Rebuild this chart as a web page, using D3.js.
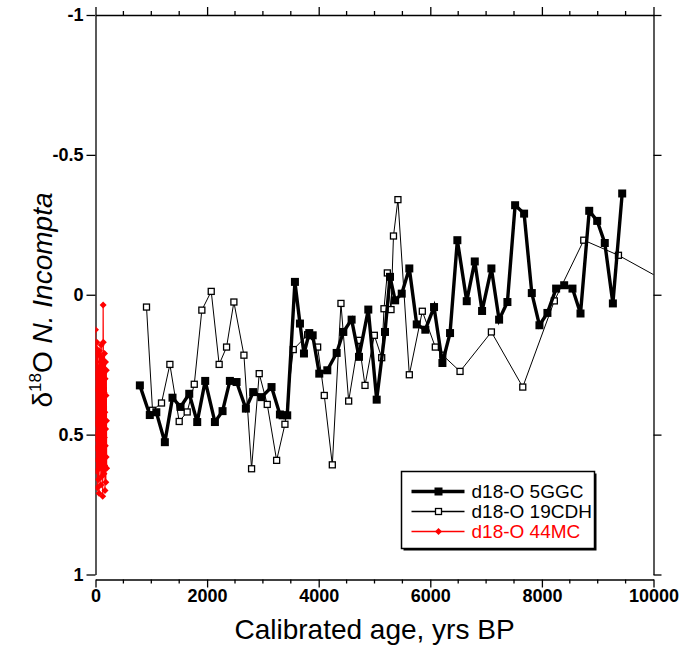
<!DOCTYPE html>
<html>
<head>
<meta charset="utf-8">
<script src="https://cdn.jsdelivr.net/npm/d3@7"></script>
<style>
  body { margin: 0; background: #fff; }
  svg { display: block; font-family: Arial, "Liberation Sans", sans-serif; }
  .tick-label { font-weight: bold; font-size: 18px; fill: #000; }
</style>
</head>
<body>
<div id="chart"></div>
<script>
// core 5GGC (thick line, filled squares)
const ages5GGC = [795, 973, 1090, 1243, 1380, 1524, 1680, 1823, 1966, 2140, 2277, 2408, 2528, 2695, 2826, 2976,
  3155, 3305, 3353, 3436, 3574, 3664, 3736, 3831, 3892, 4010, 4154, 4322, 4441, 4590, 4722, 4889, 5039, 5188,
  5278, 5370, 5488, 5624, 5757, 5911, 6067, 6217, 6354, 6485, 6653, 6797, 6928, 7095, 7233, 7382, 7520, 7681,
  7819, 7956, 8099, 8255, 8399, 8548, 8692, 8848, 8991, 9127, 9272, 9439];
const vals5GGC = [0.324, 0.43, 0.42, 0.527, 0.368, 0.401, 0.354, 0.455, 0.308, 0.455, 0.416, 0.308, 0.312, 0.407, 0.348, 0.366,
  0.33, 0.428, 0.431, 0.431, -0.046, 0.103, 0.21, 0.137, 0.145, 0.282, 0.27, 0.208, 0.133, 0.089, 0.222, 0.053, 0.375, 0.133,
  -0.064, 0.02, -0.004, -0.094, 0.106, 0.125, 0.044, 0.244, 0.137, -0.195, 0.023, -0.119, 0.058, -0.094, 0.089, 0.026, -0.32, -0.29,
  -0.006, 0.109, 0.065, -0.022, -0.034, -0.022, 0.067, -0.3, -0.264, -0.185, 0.031, -0.362];

// core 19CDH (thin line, open squares)
const ages19CDH = [914, 1022, 1183, 1333, 1500, 1643, 1770, 1906, 2074, 2216, 2349, 2480, 2660, 2797, 2934, 3078,
  3246, 3395, 3544, 3802, 3981, 4100, 4244, 4399, 4537, 4716, 4830, 4997, 5129, 5170, 5230, 5296, 5340, 5420,
  5624, 5857, 6090, 6223, 6533, 7095, 7657, 8223, 8750, 9372, 10800];
const vals19CDH = [0.044, 0.413, 0.387, 0.249, 0.453, 0.419, 0.32, 0.055, -0.012, 0.249, 0.187, 0.026, 0.216, 0.622, 0.282, 0.392,
  0.592, 0.463, 0.196, 0.143, 0.187, 0.36, 0.608, 0.031, 0.38, 0.163, 0.324, 0.145, 0.225, 0.05, -0.078, 0.053, -0.21, -0.34,
  0.286, 0.059, 0.187, 0.216, 0.274, 0.133, 0.33, 0.022, -0.195, -0.141, 0.016];

// core 44MC (red, diamonds)
const ages44MC = [0, 3, 6, 9, 12, 15, 18, 21, 24, 27, 30, 33, 36, 39, 42, 45, 48, 51, 54, 57,
  60, 63, 66, 69, 72, 75, 78, 81, 84, 87, 90, 93, 96, 99, 102, 105, 108, 111, 114, 117,
  120, 123, 126, 129, 132, 135, 137, 140, 143, 146, 149, 152, 155, 158, 161, 164, 167, 170, 173, 176,
  179, 182, 185, 188, 191, 194, 197, 200];
const vals44MC = [0.125, 0.46, 0.19, 0.55, 0.28, 0.63, 0.24, 0.5, 0.17, 0.59, 0.34, 0.69, 0.3, 0.52, 0.21, 0.44, 0.66, 0.38, 0.26, 0.57,
  0.33, 0.71, 0.41, 0.2, 0.49, 0.27, 0.62, 0.36, 0.47, 0.22, 0.58, 0.31, 0.68, 0.4, 0.18, 0.53, 0.29, 0.65, 0.37, 0.45,
  0.23, 0.6, 0.32, 0.72, 0.43, 0.25, 0.037, 0.17, 0.39, 0.56, 0.28, 0.64, 0.35, 0.51, 0.21, 0.61, 0.42, 0.7, 0.3, 0.54,
  0.24, 0.48, 0.67, 0.36, 0.58, 0.27, 0.45, 0.62];

const seriesNames = ['d18-O 5GGC', 'd18-O 19CDH', 'd18-O 44MC'];
const xTickValues = [0, 2000, 4000, 6000, 8000, 10000];
const yTickValues = [-1, -0.5, 0, 0.5, 1];

class AgeChart {

    constructor(_config) {
        this.config = {
            parentElement: _config.parentElement,
            containerWidth: 679,
            containerHeight: 646,
            margin: {top: 15, right: 25.5, bottom: 71.5, left: 95.5},
            xAxisOffset: 5,
            majorTick: 8,
            minorTick: 4,
            diamond: 3.5,
            legend: {x: 401.5, y: 471.5, width: 193, height: 77, rowHeight: 20}
        };
        this.initVis();
    }

    initVis() {
        let vis = this;

        vis.width = vis.config.containerWidth - vis.config.margin.left - vis.config.margin.right;
        vis.height = vis.config.containerHeight - vis.config.margin.top - vis.config.margin.bottom;

        vis.xScale = d3.scaleLinear().domain([0, 10000]).range([0, vis.width]);
        // axis runs from -1 at the top to 1 at the bottom
        vis.yScale = d3.scaleLinear().domain([-1, 1]).range([0, vis.height]);

        const r = vis.config.diamond;
        vis.diamondPath = `M0,${-r}L${r},0L0,${r}L${-r},0Z`;

        vis.svg = d3.select(vis.config.parentElement).append('svg')
            .attr('width', vis.config.containerWidth)
            .attr('height', vis.config.containerHeight);

        vis.chartArea = vis.svg.append('g')
            .attr('transform', `translate(${vis.config.margin.left},${vis.config.margin.top})`);

        vis.svg.append('defs').append('clipPath')
            .attr('id', 'plot-clip')
            .append('rect')
            .attr('width', vis.width)
            .attr('height', vis.height);

        vis.renderAxes();
        vis.renderVis();
        vis.renderLegend();
    }

    renderAxes() {
        let vis = this;
        const minor = d3.range(0, 10001, 500).filter(d => d % 2000 !== 0);

        const styleAxis = g => {
            g.select('.domain').attr('stroke', '#000').attr('stroke-width', 1.3);
            g.selectAll('.tick line').attr('stroke', '#000').attr('stroke-width', 1.3);
        };

        // bottom axis, sits a few pixels below the plot
        const xBottom = vis.chartArea.append('g')
            .attr('transform', `translate(0,${vis.height + vis.config.xAxisOffset})`)
            .call(d3.axisBottom(vis.xScale).tickValues(xTickValues)
                .tickSize(vis.config.majorTick).tickSizeOuter(0).tickPadding(2).tickFormat(d3.format('d')))
            .call(styleAxis);
        xBottom.selectAll('.tick text').attr('class', 'tick-label').attr('font-size', null).attr('font-family', null);
        xBottom.append('g').selectAll('line').data(minor).join('line')
            .attr('x1', d => vis.xScale(d)).attr('x2', d => vis.xScale(d))
            .attr('y1', 0).attr('y2', vis.config.minorTick)
            .attr('stroke', '#000').attr('stroke-width', 1.3);

        // mirrored top axis, no labels
        const xTop = vis.chartArea.append('g')
            .call(d3.axisTop(vis.xScale).tickValues(xTickValues)
                .tickSize(vis.config.majorTick).tickSizeOuter(0).tickFormat(''))
            .call(styleAxis);
        xTop.append('g').selectAll('line').data(minor).join('line')
            .attr('x1', d => vis.xScale(d)).attr('x2', d => vis.xScale(d))
            .attr('y1', 0).attr('y2', -vis.config.minorTick)
            .attr('stroke', '#000').attr('stroke-width', 1.3);

        // plain hyphen for negatives, like the original
        const yLeft = vis.chartArea.append('g')
            .call(d3.axisLeft(vis.yScale).tickValues(yTickValues)
                .tickSize(9).tickSizeOuter(0).tickPadding(3).tickFormat(d => String(d)))
            .call(styleAxis);
        yLeft.selectAll('.tick text').attr('class', 'tick-label').attr('font-size', null).attr('font-family', null);

        vis.chartArea.append('g')
            .attr('transform', `translate(${vis.width},0)`)
            .call(d3.axisRight(vis.yScale).tickValues(yTickValues)
                .tickSize(8).tickSizeOuter(0).tickFormat(''))
            .call(styleAxis);

        // axis titles
        vis.svg.append('text')
            .attr('x', vis.config.margin.left + vis.width / 2)
            .attr('y', 639)
            .attr('text-anchor', 'middle')
            .attr('font-size', 28)
            .text('Calibrated age, yrs BP');

        const yTitle = vis.svg.append('text')
            .attr('transform', 'translate(52,300) rotate(-90)')
            .attr('text-anchor', 'middle')
            .attr('font-size', 28);
        yTitle.append('tspan').text('\u03b4');
        yTitle.append('tspan').attr('dy', -11).attr('font-size', 17).text('18');
        yTitle.append('tspan').attr('dy', 11).text('O ');
        yTitle.append('tspan').attr('font-style', 'italic').text('N. Incompta');
    }

    renderVis() {
        let vis = this;

        const plot = vis.chartArea.append('g').attr('clip-path', 'url(#plot-clip)');
        const line = d3.line().x(d => vis.xScale(d[0])).y(d => vis.yScale(d[1]));

        const cdh = d3.zip(ages19CDH, vals19CDH);
        const ggc = d3.zip(ages5GGC, vals5GGC);
        const mc = d3.zip(ages44MC, vals44MC);

        // 19CDH - thin line with open squares
        plot.append('path').datum(cdh)
            .attr('d', line).attr('fill', 'none').attr('stroke', '#000').attr('stroke-width', 1);
        plot.selectAll('.mark-cdh').data(cdh).join('rect')
            .attr('class', 'mark-cdh')
            .attr('x', d => vis.xScale(d[0]) - 3).attr('y', d => vis.yScale(d[1]) - 3)
            .attr('width', 6).attr('height', 6)
            .attr('fill', '#fff').attr('stroke', '#000').attr('stroke-width', 1.3);

        // 5GGC - thick line with filled squares
        plot.append('path').datum(ggc)
            .attr('d', line).attr('fill', 'none').attr('stroke', '#000').attr('stroke-width', 3.4)
            .attr('stroke-linejoin', 'miter');
        plot.selectAll('.mark-ggc').data(ggc).join('rect')
            .attr('class', 'mark-ggc')
            .attr('x', d => vis.xScale(d[0]) - 4).attr('y', d => vis.yScale(d[1]) - 4)
            .attr('width', 8).attr('height', 8)
            .attr('fill', '#000');

        // 44MC - red line with diamonds
        plot.append('path').datum(mc)
            .attr('d', line).attr('fill', 'none').attr('stroke', '#ff0000').attr('stroke-width', 1.2);
        plot.selectAll('.mark-mc').data(mc).join('path')
            .attr('class', 'mark-mc')
            .attr('d', vis.diamondPath)
            .attr('transform', d => `translate(${vis.xScale(d[0])},${vis.yScale(d[1])})`)
            .attr('fill', '#ff0000');
    }

    renderLegend() {
        let vis = this;
        const lg = vis.config.legend;

        const legend = vis.svg.append('g').attr('transform', `translate(${lg.x},${lg.y})`);
        // drop shadow then frame
        legend.append('rect')
            .attr('x', 2).attr('y', 2).attr('width', lg.width).attr('height', lg.height)
            .attr('fill', '#000');
        legend.append('rect')
            .attr('width', lg.width).attr('height', lg.height)
            .attr('fill', '#fff').attr('stroke', '#000').attr('stroke-width', 1.5);

        const rows = legend.selectAll('.legend-row').data(seriesNames).join('g')
            .attr('class', 'legend-row')
            .attr('transform', (d, i) => `translate(0,${20 + i * lg.rowHeight})`);

        const colors = ['#000', '#000', '#ff0000'];
        const widths = [3.4, 1.3, 1.5];

        rows.append('line')
            .attr('x1', 10).attr('x2', 63)
            .attr('stroke', (d, i) => colors[i])
            .attr('stroke-width', (d, i) => widths[i]);

        rows.each(function (d, i) {
            const row = d3.select(this);
            if (i === 0) {
                row.append('rect').attr('x', 33).attr('y', -4).attr('width', 8).attr('height', 8).attr('fill', '#000');
            } else if (i === 1) {
                row.append('rect').attr('x', 34).attr('y', -3).attr('width', 6).attr('height', 6)
                    .attr('fill', '#fff').attr('stroke', '#000').attr('stroke-width', 1.3);
            } else {
                row.append('path').attr('d', vis.diamondPath).attr('transform', 'translate(37,0)')
                    .attr('fill', '#ff0000');
            }
        });

        rows.append('text')
            .attr('x', 70).attr('y', 6.5)
            .attr('font-size', 19)
            .attr('fill', (d, i) => colors[i])
            .text(d => d);
    }
}

const chart = new AgeChart({parentElement: '#chart'});
</script>
</body>
</html>
